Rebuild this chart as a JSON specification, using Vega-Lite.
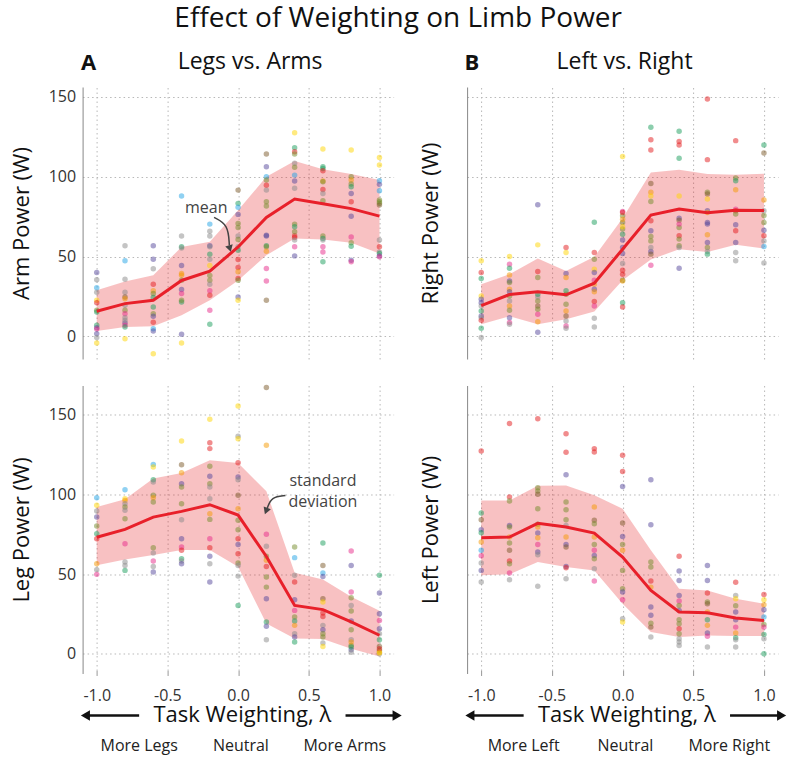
{
"$schema":"https://vega.github.io/schema/vega-lite/v6.json",
"padding":{"left":9.6,"top":5,"right":0,"bottom":0},
"autosize":{"type":"pad"},
"title":{"text":"Effect of Weighting on Limb Power","fontSize":28,"fontWeight":"normal","color":"#111","anchor":"middle","offset":18},
"bounds":"flush",
"columns":2,
"spacing":{"row":26.5,"column":73.5},
"concat":[
{"width":311,"height":272,
"title":{"text":"Legs vs. Arms","fontSize":23,"fontWeight":"normal","anchor":"middle","frame":"group","dx":12,"offset":-22.5,"color":"#111"},
"encoding":{"x":{"field":"x","type":"quantitative","scale":{"domain":[-1.1,1.1],"nice":false,"zero":false},"axis":{"orient":"top","values":[-1,-0.5,0,0.5,1],"labels":false,"ticks":false,"domain":false,"grid":true,"title":"A","titleFontWeight":"bold","titleFontSize":22,"titleAlign":"left","titleAnchor":"start","titleBaseline":"alphabetic","titleX":-2,"titleY":-17.5}}},
"layer":[
{"data":{"name":"stats"},"transform":[{"filter":"datum.p == 'a'"}],"mark":{"type":"area","color":"#e41a1c","opacity":0.27},"encoding":{"y":{"field":"lo","type":"quantitative","scale":{"domain":[-14.2,156.2],"nice":false,"zero":false},"title":"Arm Power (W)","axis":{"values":[0,50,100,150],"ticks":false,"labelPadding":7,"titlePadding":15,"grid":true}},"y2":{"field":"hi"}}},
{"data":{"values":[{}]},"mark":{"type":"rule","color":"#555","strokeWidth":1.2},"encoding":{"x":{"datum":-1.1},"x2":{"datum":1},"y":{"datum":0}}},
{"data":{"name":"pts"},"transform":[{"filter":"datum.p == 'a'"}],"mark":{"type":"circle","size":30,"opacity":0.5},"encoding":{"y":{"field":"v","type":"quantitative","title":"Arm Power (W)"},"color":{"field":"c","type":"nominal","scale":{"domain":[1,2,3,4,5,6,7,8,9,10],"range":["#8a8a8a","#22a3e6","#1a9e5c","#e31a1c","#56479c","#ffd500","#f59a00","#7b5a2a","#e7298a","#738c2a"]},"legend":null}}},
{"data":{"name":"stats"},"transform":[{"filter":"datum.p == 'a'"}],"mark":{"type":"line","color":"#e8202a","strokeWidth":3},"encoding":{"y":{"field":"m","type":"quantitative","title":"Arm Power (W)"}}},
{"data":{"values":[{"x":-0.17,"y":74.5},{"x":-0.07,"y":70},{"x":-0.062,"y":57}]},"mark":{"type":"line","color":"#444","strokeWidth":1.5,"interpolate":"basis"},"encoding":{"y":{"field":"y","type":"quantitative","title":"Arm Power (W)"}}},
{"data":{"values":[{"x":-0.058,"y":55}]},"mark":{"type":"point","shape":"triangle-down","filled":true,"color":"#444","size":60,"angle":344,"opacity":1},"encoding":{"y":{"field":"y","type":"quantitative","title":"Arm Power (W)"}}},
{"data":{"values":[{"x":-0.225,"y":80.2,"t":"mean"}]},"mark":{"type":"text","fontSize":16,"color":"#444"},"encoding":{"y":{"field":"y","type":"quantitative","title":"Arm Power (W)"},"text":{"field":"t"}}}
]},
{"width":311,"height":272,
"title":{"text":"Left vs. Right","fontSize":23,"fontWeight":"normal","anchor":"middle","frame":"group","dx":2,"offset":-22.5,"color":"#111"},
"encoding":{"x":{"field":"x","type":"quantitative","scale":{"domain":[-1.1,1.1],"nice":false,"zero":false},"axis":{"orient":"top","values":[-1,-0.5,0,0.5,1],"labels":false,"ticks":false,"domain":false,"grid":true,"title":"B","titleFontWeight":"bold","titleFontSize":22,"titleAlign":"left","titleAnchor":"start","titleBaseline":"alphabetic","titleX":-3,"titleY":-17.5}}},
"layer":[
{"data":{"name":"stats"},"transform":[{"filter":"datum.p == 'b'"}],"mark":{"type":"area","color":"#e41a1c","opacity":0.27},"encoding":{"y":{"field":"lo","type":"quantitative","scale":{"domain":[-14.2,156.2],"nice":false,"zero":false},"title":"Right Power (W)","axis":{"values":[0,50,100,150],"labels":false,"ticks":false,"titlePadding":25,"grid":true}},"y2":{"field":"hi"}}},
{"data":{"values":[{}]},"mark":{"type":"rule","color":"#555","strokeWidth":1.2},"encoding":{"x":{"datum":-1.1},"x2":{"datum":1},"y":{"datum":0}}},
{"data":{"name":"pts"},"transform":[{"filter":"datum.p == 'b'"}],"mark":{"type":"circle","size":30,"opacity":0.5},"encoding":{"y":{"field":"v","type":"quantitative","title":"Right Power (W)"},"color":{"field":"c","type":"nominal","scale":{"domain":[1,2,3,4,5,6,7,8,9,10],"range":["#8a8a8a","#22a3e6","#1a9e5c","#e31a1c","#56479c","#ffd500","#f59a00","#7b5a2a","#e7298a","#738c2a"]},"legend":null}}},
{"data":{"name":"stats"},"transform":[{"filter":"datum.p == 'b'"}],"mark":{"type":"line","color":"#e8202a","strokeWidth":3},"encoding":{"y":{"field":"m","type":"quantitative","title":"Right Power (W)"}}}
]},
{"width":311,"height":288,
"encoding":{"x":{"field":"x","type":"quantitative","scale":{"domain":[-1.1,1.1],"nice":false,"zero":false},"axis":{"orient":"bottom","values":[-1,-0.5,0,0.5,1],"labelExpr":"datum.value < 0 ? '-' + format(-datum.value, '.1f') : format(datum.value, '.1f')","domain":false,"tickSize":-5,"tickColor":"#999","grid":true,"title":null,"labelPadding":17,"offset":2}}},
"layer":[
{"data":{"name":"stats"},"transform":[{"filter":"datum.p == 'c'"}],"mark":{"type":"area","color":"#e41a1c","opacity":0.27},"encoding":{"y":{"field":"lo","type":"quantitative","scale":{"domain":[-12.4,168.3],"nice":false,"zero":false},"title":"Leg Power (W)","axis":{"values":[0,50,100,150],"ticks":false,"labelPadding":7,"titlePadding":15,"grid":true}},"y2":{"field":"hi"}}},
{"data":{"values":[{}]},"mark":{"type":"rule","color":"#555","strokeWidth":1.2},"encoding":{"x":{"datum":-1.1},"x2":{"datum":1},"y":{"datum":0}}},
{"data":{"values":[{}]},"mark":{"type":"rule","color":"#999","strokeWidth":1},"encoding":{"x":{"datum":-1},"x2":{"datum":1},"y":{"datum":-13.65}}},
{"data":{"name":"pts"},"transform":[{"filter":"datum.p == 'c'"}],"mark":{"type":"circle","size":30,"opacity":0.5},"encoding":{"y":{"field":"v","type":"quantitative","title":"Leg Power (W)"},"color":{"field":"c","type":"nominal","scale":{"domain":[1,2,3,4,5,6,7,8,9,10],"range":["#8a8a8a","#22a3e6","#1a9e5c","#e31a1c","#56479c","#ffd500","#f59a00","#7b5a2a","#e7298a","#738c2a"]},"legend":null}}},
{"data":{"name":"stats"},"transform":[{"filter":"datum.p == 'c'"}],"mark":{"type":"line","color":"#e8202a","strokeWidth":3},"encoding":{"y":{"field":"m","type":"quantitative","title":"Leg Power (W)"}}},
{"data":{"values":[{"x":0.335,"y":99.3},{"x":0.235,"y":98.5},{"x":0.205,"y":91}]},"mark":{"type":"line","color":"#444","strokeWidth":1.5,"interpolate":"basis","orient":"vertical"},"encoding":{"y":{"field":"y","type":"quantitative","title":"Leg Power (W)"},"order":{"field":"y","sort":"descending"}}},
{"data":{"values":[{"x":0.198,"y":89.5}]},"mark":{"type":"point","shape":"triangle-down","filled":true,"color":"#444","size":60,"angle":21,"opacity":1},"encoding":{"y":{"field":"y","type":"quantitative","title":"Leg Power (W)"}}},
{"data":{"values":[{"x":0.6,"y":108.1,"t":"standard"},{"x":0.6,"y":95,"t":"deviation"}]},"mark":{"type":"text","fontSize":16,"color":"#444"},"encoding":{"y":{"field":"y","type":"quantitative","title":"Leg Power (W)"},"text":{"field":"t"}}}
]},
{"width":311,"height":288,
"encoding":{"x":{"field":"x","type":"quantitative","scale":{"domain":[-1.1,1.1],"nice":false,"zero":false},"axis":{"orient":"bottom","values":[-1,-0.5,0,0.5,1],"labelExpr":"datum.value < 0 ? '-' + format(-datum.value, '.1f') : format(datum.value, '.1f')","domain":false,"tickSize":-5,"tickColor":"#999","grid":true,"title":null,"labelPadding":17,"offset":2}}},
"layer":[
{"data":{"name":"stats"},"transform":[{"filter":"datum.p == 'd'"}],"mark":{"type":"area","color":"#e41a1c","opacity":0.27},"encoding":{"y":{"field":"lo","type":"quantitative","scale":{"domain":[-12.4,168.3],"nice":false,"zero":false},"title":"Left Power (W)","axis":{"values":[0,50,100,150],"labels":false,"ticks":false,"titlePadding":25,"grid":true}},"y2":{"field":"hi"}}},
{"data":{"values":[{}]},"mark":{"type":"rule","color":"#555","strokeWidth":1.2},"encoding":{"x":{"datum":-1.1},"x2":{"datum":1},"y":{"datum":0}}},
{"data":{"values":[{}]},"mark":{"type":"rule","color":"#999","strokeWidth":1},"encoding":{"x":{"datum":-1},"x2":{"datum":1},"y":{"datum":-13.65}}},
{"data":{"name":"pts"},"transform":[{"filter":"datum.p == 'd'"}],"mark":{"type":"circle","size":30,"opacity":0.5},"encoding":{"y":{"field":"v","type":"quantitative","title":"Left Power (W)"},"color":{"field":"c","type":"nominal","scale":{"domain":[1,2,3,4,5,6,7,8,9,10],"range":["#8a8a8a","#22a3e6","#1a9e5c","#e31a1c","#56479c","#ffd500","#f59a00","#7b5a2a","#e7298a","#738c2a"]},"legend":null}}},
{"data":{"name":"stats"},"transform":[{"filter":"datum.p == 'd'"}],"mark":{"type":"line","color":"#e8202a","strokeWidth":3},"encoding":{"y":{"field":"m","type":"quantitative","title":"Left Power (W)"}}}
]},
{"width":311,"height":62,
"encoding":{"x":{"field":"x","type":"quantitative","scale":{"domain":[-1.1,1.1],"nice":false,"zero":false},"axis":null},"y":{"field":"y","type":"quantitative","scale":{"domain":[-0.5,1.5],"nice":false,"zero":false},"axis":null}},
"layer":[
{"data":{"values":[{"x":0.03,"y":1,"t":"Task Weighting, λ"}]},"mark":{"type":"text","fontSize":22,"color":"#111"},"encoding":{"text":{"field":"t"}}},
{"data":{"values":[{"x":-1.08,"x2":-0.7,"y":1},{"x":0.76,"x2":1.125,"y":1}]},"mark":{"type":"rule","color":"#111","strokeWidth":2.5},"encoding":{"x2":{"field":"x2"}}},
{"data":{"values":[{"x":-1.08,"y":1,"d":"l"},{"x":1.125,"y":1,"d":"r"}]},"mark":{"type":"point","filled":true,"color":"#111","size":110,"opacity":1},"encoding":{"shape":{"field":"d","type":"nominal","scale":{"domain":["l","r"],"range":["triangle-left","triangle-right"]},"legend":null}}},
{"data":{"values":[{"x":-0.7,"y":0,"t":"More Legs"},{"x":0.02,"y":0,"t":"Neutral"},{"x":0.755,"y":0,"t":"More Arms"}]},"mark":{"type":"text","fontSize":16,"color":"#222"},"encoding":{"text":{"field":"t"}}}
]},
{"width":311,"height":62,
"encoding":{"x":{"field":"x","type":"quantitative","scale":{"domain":[-1.1,1.1],"nice":false,"zero":false},"axis":null},"y":{"field":"y","type":"quantitative","scale":{"domain":[-0.5,1.5],"nice":false,"zero":false},"axis":null}},
"layer":[
{"data":{"values":[{"x":0.03,"y":1,"t":"Task Weighting, λ"}]},"mark":{"type":"text","fontSize":22,"color":"#111"},"encoding":{"text":{"field":"t"}}},
{"data":{"values":[{"x":-1.08,"x2":-0.7,"y":1},{"x":0.76,"x2":1.125,"y":1}]},"mark":{"type":"rule","color":"#111","strokeWidth":2.5},"encoding":{"x2":{"field":"x2"}}},
{"data":{"values":[{"x":-1.08,"y":1,"d":"l"},{"x":1.125,"y":1,"d":"r"}]},"mark":{"type":"point","filled":true,"color":"#111","size":110,"opacity":1},"encoding":{"shape":{"field":"d","type":"nominal","scale":{"domain":["l","r"],"range":["triangle-left","triangle-right"]},"legend":null}}},
{"data":{"values":[{"x":-0.7,"y":0,"t":"More Left"},{"x":0.02,"y":0,"t":"Neutral"},{"x":0.755,"y":0,"t":"More Right"}]},"mark":{"type":"text","fontSize":16,"color":"#222"},"encoding":{"text":{"field":"t"}}}
]}
],
"datasets":{
"stats":[
{"p":"a","x":-1,"m":15.7,"lo":3.3,"hi":28.9},{"p":"a","x":-0.8,"m":20.5,"lo":5.9,"hi":34.3},{"p":"a","x":-0.6,"m":22.6,"lo":6.3,"hi":38.3},{"p":"a","x":-0.4,"m":35,"lo":13.2,"hi":56},{"p":"a","x":-0.2,"m":40.8,"lo":22.6,"hi":59.2},{"p":"a","x":0,"m":56,"lo":35,"hi":79},{"p":"a","x":0.2,"m":74.5,"lo":50.8,"hi":100},{"p":"a","x":0.4,"m":86,"lo":61.3,"hi":109.8},{"p":"a","x":0.6,"m":83,"lo":60.7,"hi":104.6},{"p":"a","x":0.8,"m":80,"lo":58.6,"hi":101.7},{"p":"a","x":1,"m":75.3,"lo":51.9,"hi":98},
{"p":"b","x":-1,"m":19.2,"lo":7.5,"hi":32.6},{"p":"b","x":-0.8,"m":26.2,"lo":12.6,"hi":38.9},{"p":"b","x":-0.6,"m":28,"lo":7.5,"hi":48.7},{"p":"b","x":-0.4,"m":26,"lo":10.7,"hi":41},{"p":"b","x":-0.2,"m":33.3,"lo":15.5,"hi":49.8},{"p":"b","x":0,"m":54.6,"lo":35.1,"hi":74},{"p":"b","x":0.2,"m":76,"lo":48.1,"hi":102.7},{"p":"b","x":0.4,"m":79.7,"lo":54.6,"hi":104.4},{"p":"b","x":0.6,"m":77.4,"lo":52.9,"hi":101.7},{"p":"b","x":0.8,"m":79,"lo":57.3,"hi":101.3},{"p":"b","x":1,"m":78.9,"lo":55,"hi":101.9},
{"p":"c","x":-1,"m":73.1,"lo":55.5,"hi":92},{"p":"c","x":-0.8,"m":78,"lo":59.2,"hi":97},{"p":"c","x":-0.6,"m":85.7,"lo":62,"hi":110},{"p":"c","x":-0.4,"m":89.3,"lo":65.1,"hi":113.4},{"p":"c","x":-0.2,"m":93.5,"lo":65.1,"hi":121.4},{"p":"c","x":0,"m":87,"lo":54.6,"hi":119.7},{"p":"c","x":0.2,"m":61,"lo":18.9,"hi":101.9},{"p":"c","x":0.4,"m":30.3,"lo":9.5,"hi":50.8},{"p":"c","x":0.6,"m":27.7,"lo":9.2,"hi":46.6},{"p":"c","x":0.8,"m":20,"lo":3.2,"hi":35.7},{"p":"c","x":1,"m":11.6,"lo":-1.7,"hi":26.9},
{"p":"d","x":-1,"m":72.8,"lo":49.2,"hi":96.2},{"p":"d","x":-0.8,"m":73.2,"lo":49.8,"hi":96.2},{"p":"d","x":-0.6,"m":81.8,"lo":57.5,"hi":105.4},{"p":"d","x":-0.4,"m":79.5,"lo":54.4,"hi":105.6},{"p":"d","x":-0.2,"m":75.7,"lo":52.3,"hi":99.4},{"p":"d","x":0,"m":60.7,"lo":31.4,"hi":91},{"p":"d","x":0.2,"m":39.7,"lo":13.6,"hi":64.9},{"p":"d","x":0.4,"m":26.2,"lo":10.5,"hi":40.8},{"p":"d","x":0.6,"m":25.7,"lo":11.5,"hi":39.7},{"p":"d","x":0.8,"m":22.4,"lo":11.1,"hi":34.5},{"p":"d","x":1,"m":20.9,"lo":11.1,"hi":31.4}
],
"pts":[
{"p":"a","x":-1,"c":5,"v":40},{"p":"a","x":-1,"c":1,"v":35.5},{"p":"a","x":-1,"c":2,"v":30.5},{"p":"a","x":-1,"c":1,"v":27.6},{"p":"a","x":-1,"c":6,"v":22.6},{"p":"a","x":-1,"c":4,"v":21},{"p":"a","x":-1,"c":10,"v":16.3},{"p":"a","x":-1,"c":3,"v":15.3},{"p":"a","x":-1,"c":3,"v":6.9},{"p":"a","x":-1,"c":5,"v":5.4},{"p":"a","x":-1,"c":9,"v":4.6},{"p":"a","x":-1,"c":5,"v":1.7},{"p":"a","x":-1,"c":1,"v":-0.8},{"p":"a","x":-1,"c":6,"v":-4.2},
{"p":"a","x":-0.8,"c":1,"v":56.7},{"p":"a","x":-0.8,"c":2,"v":47.3},{"p":"a","x":-0.8,"c":1,"v":35.8},{"p":"a","x":-0.8,"c":1,"v":27.6},{"p":"a","x":-0.8,"c":8,"v":24.7},{"p":"a","x":-0.8,"c":7,"v":23.6},{"p":"a","x":-0.8,"c":1,"v":19.5},{"p":"a","x":-0.8,"c":10,"v":16.3},{"p":"a","x":-0.8,"c":9,"v":14.2},{"p":"a","x":-0.8,"c":1,"v":11.7},{"p":"a","x":-0.8,"c":5,"v":8.4},{"p":"a","x":-0.8,"c":9,"v":6.9},{"p":"a","x":-0.8,"c":6,"v":-1.5},{"p":"a","x":-0.8,"c":1,"v":10},{"p":"a","x":-0.8,"c":3,"v":5.9},
{"p":"a","x":-0.6,"c":5,"v":56.7},{"p":"a","x":-0.6,"c":5,"v":48.3},{"p":"a","x":-0.6,"c":1,"v":42.3},{"p":"a","x":-0.6,"c":4,"v":32.6},{"p":"a","x":-0.6,"c":7,"v":28.5},{"p":"a","x":-0.6,"c":10,"v":26.8},{"p":"a","x":-0.6,"c":3,"v":24.3},{"p":"a","x":-0.6,"c":3,"v":18.4},{"p":"a","x":-0.6,"c":10,"v":14.2},{"p":"a","x":-0.6,"c":5,"v":12.6},{"p":"a","x":-0.6,"c":4,"v":8.8},{"p":"a","x":-0.6,"c":2,"v":4.8},{"p":"a","x":-0.6,"c":5,"v":3.3},{"p":"a","x":-0.6,"c":6,"v":-10.9},
{"p":"a","x":-0.4,"c":2,"v":87.9},{"p":"a","x":-0.4,"c":1,"v":62.8},{"p":"a","x":-0.4,"c":3,"v":56.1},{"p":"a","x":-0.4,"c":1,"v":55.4},{"p":"a","x":-0.4,"c":5,"v":44.4},{"p":"a","x":-0.4,"c":7,"v":39.3},{"p":"a","x":-0.4,"c":7,"v":38.3},{"p":"a","x":-0.4,"c":10,"v":35.1},{"p":"a","x":-0.4,"c":5,"v":29.3},{"p":"a","x":-0.4,"c":9,"v":26.8},{"p":"a","x":-0.4,"c":3,"v":21.5},{"p":"a","x":-0.4,"c":10,"v":22.6},{"p":"a","x":-0.4,"c":5,"v":1.3},{"p":"a","x":-0.4,"c":6,"v":-4.2},
{"p":"a","x":-0.2,"c":2,"v":70.3},{"p":"a","x":-0.2,"c":1,"v":65.9},{"p":"a","x":-0.2,"c":1,"v":62.8},{"p":"a","x":-0.2,"c":5,"v":56.7},{"p":"a","x":-0.2,"c":1,"v":56.1},{"p":"a","x":-0.2,"c":3,"v":51.5},{"p":"a","x":-0.2,"c":1,"v":48.3},{"p":"a","x":-0.2,"c":6,"v":44.4},{"p":"a","x":-0.2,"c":10,"v":38.1},{"p":"a","x":-0.2,"c":10,"v":35.1},{"p":"a","x":-0.2,"c":1,"v":32.6},{"p":"a","x":-0.2,"c":9,"v":28.5},{"p":"a","x":-0.2,"c":4,"v":25.7},{"p":"a","x":-0.2,"c":9,"v":16.3},{"p":"a","x":-0.2,"c":3,"v":7.5},
{"p":"a","x":0,"c":8,"v":91.6},{"p":"a","x":0,"c":3,"v":83.3},{"p":"a","x":0,"c":2,"v":80.8},{"p":"a","x":0,"c":5,"v":76.4},{"p":"a","x":0,"c":10,"v":70.7},{"p":"a","x":0,"c":10,"v":68.2},{"p":"a","x":0,"c":1,"v":62.8},{"p":"a","x":0,"c":10,"v":60.7},{"p":"a","x":0,"c":1,"v":56.1},{"p":"a","x":0,"c":3,"v":54},{"p":"a","x":0,"c":4,"v":48.1},{"p":"a","x":0,"c":4,"v":43.1},{"p":"a","x":0,"c":7,"v":40.4},{"p":"a","x":0,"c":4,"v":36.2},{"p":"a","x":0,"c":10,"v":35.1},{"p":"a","x":0,"c":5,"v":24.7},{"p":"a","x":0,"c":6,"v":22.6},
{"p":"a","x":0.2,"c":8,"v":114.2},{"p":"a","x":0.2,"c":5,"v":106.3},{"p":"a","x":0.2,"c":2,"v":100},{"p":"a","x":0.2,"c":10,"v":97.9},{"p":"a","x":0.2,"c":4,"v":94.6},{"p":"a","x":0.2,"c":1,"v":91.6},{"p":"a","x":0.2,"c":10,"v":84.3},{"p":"a","x":0.2,"c":10,"v":81.6},{"p":"a","x":0.2,"c":5,"v":63.4},{"p":"a","x":0.2,"c":5,"v":62.8},{"p":"a","x":0.2,"c":3,"v":56.7},{"p":"a","x":0.2,"c":10,"v":56.1},{"p":"a","x":0.2,"c":7,"v":53.3},{"p":"a","x":0.2,"c":9,"v":42.5},{"p":"a","x":0.2,"c":9,"v":34.7},{"p":"a","x":0.2,"c":8,"v":22.6},
{"p":"a","x":0.4,"c":6,"v":127.6},{"p":"a","x":0.4,"c":3,"v":118.2},{"p":"a","x":0.4,"c":4,"v":115.7},{"p":"a","x":0.4,"c":10,"v":114.2},{"p":"a","x":0.4,"c":1,"v":108.4},{"p":"a","x":0.4,"c":10,"v":105.9},{"p":"a","x":0.4,"c":2,"v":101},{"p":"a","x":0.4,"c":5,"v":97.3},{"p":"a","x":0.4,"c":1,"v":92.7},{"p":"a","x":0.4,"c":10,"v":70.3},{"p":"a","x":0.4,"c":3,"v":68.6},{"p":"a","x":0.4,"c":4,"v":63},{"p":"a","x":0.4,"c":4,"v":61.9},{"p":"a","x":0.4,"c":9,"v":56.1},{"p":"a","x":0.4,"c":5,"v":50.4},{"p":"a","x":0.4,"c":1,"v":60.3},{"p":"a","x":0.4,"c":10,"v":65.5},
{"p":"a","x":0.6,"c":6,"v":117.4},{"p":"a","x":0.6,"c":3,"v":106.3},{"p":"a","x":0.6,"c":3,"v":105.2},{"p":"a","x":0.6,"c":4,"v":103.8},{"p":"a","x":0.6,"c":7,"v":97.3},{"p":"a","x":0.6,"c":10,"v":96.9},{"p":"a","x":0.6,"c":4,"v":92},{"p":"a","x":0.6,"c":1,"v":89.5},{"p":"a","x":0.6,"c":10,"v":84.9},{"p":"a","x":0.6,"c":10,"v":62.8},{"p":"a","x":0.6,"c":3,"v":61.3},{"p":"a","x":0.6,"c":1,"v":60.3},{"p":"a","x":0.6,"c":9,"v":56.1},{"p":"a","x":0.6,"c":9,"v":52.9},{"p":"a","x":0.6,"c":3,"v":46.7},
{"p":"a","x":0.8,"c":6,"v":116.7},{"p":"a","x":0.8,"c":10,"v":100},{"p":"a","x":0.8,"c":7,"v":97.9},{"p":"a","x":0.8,"c":10,"v":95.4},{"p":"a","x":0.8,"c":3,"v":93.7},{"p":"a","x":0.8,"c":5,"v":89.5},{"p":"a","x":0.8,"c":4,"v":84.3},{"p":"a","x":0.8,"c":5,"v":75.3},{"p":"a","x":0.8,"c":9,"v":62.3},{"p":"a","x":0.8,"c":10,"v":58.6},{"p":"a","x":0.8,"c":3,"v":56.5},{"p":"a","x":0.8,"c":5,"v":47.7},{"p":"a","x":0.8,"c":9,"v":46.7},
{"p":"a","x":1,"c":6,"v":112.1},{"p":"a","x":1,"c":6,"v":107.3},{"p":"a","x":1,"c":2,"v":97.5},{"p":"a","x":1,"c":5,"v":95.2},{"p":"a","x":1,"c":2,"v":91.2},{"p":"a","x":1,"c":10,"v":85.4},{"p":"a","x":1,"c":10,"v":84.3},{"p":"a","x":1,"c":10,"v":83.3},{"p":"a","x":1,"c":8,"v":82.2},{"p":"a","x":1,"c":1,"v":52.9},{"p":"a","x":1,"c":3,"v":51.9},{"p":"a","x":1,"c":5,"v":50.4},{"p":"a","x":1,"c":1,"v":60.3},{"p":"a","x":1,"c":4,"v":56.1},{"p":"a","x":1,"c":9,"v":49.8},
{"p":"b","x":-1,"c":6,"v":47.3},{"p":"b","x":-1,"c":4,"v":40},{"p":"b","x":-1,"c":3,"v":36.2},{"p":"b","x":-1,"c":6,"v":25.3},{"p":"b","x":-1,"c":5,"v":23.2},{"p":"b","x":-1,"c":5,"v":21.1},{"p":"b","x":-1,"c":1,"v":19},{"p":"b","x":-1,"c":3,"v":15.9},{"p":"b","x":-1,"c":5,"v":12.8},{"p":"b","x":-1,"c":1,"v":11.7},{"p":"b","x":-1,"c":4,"v":10},{"p":"b","x":-1,"c":3,"v":5},{"p":"b","x":-1,"c":1,"v":-0.8},
{"p":"b","x":-0.8,"c":6,"v":50},{"p":"b","x":-0.8,"c":9,"v":45.2},{"p":"b","x":-0.8,"c":3,"v":42.7},{"p":"b","x":-0.8,"c":7,"v":38.5},{"p":"b","x":-0.8,"c":5,"v":34.7},{"p":"b","x":-0.8,"c":10,"v":33.7},{"p":"b","x":-0.8,"c":7,"v":29.5},{"p":"b","x":-0.8,"c":5,"v":28},{"p":"b","x":-0.8,"c":10,"v":25.3},{"p":"b","x":-0.8,"c":1,"v":22.2},{"p":"b","x":-0.8,"c":7,"v":19},{"p":"b","x":-0.8,"c":10,"v":16.3},{"p":"b","x":-0.8,"c":5,"v":11.7},{"p":"b","x":-0.8,"c":9,"v":8.6},{"p":"b","x":-0.8,"c":1,"v":7.5},
{"p":"b","x":-0.6,"c":5,"v":82.4},{"p":"b","x":-0.6,"c":6,"v":57.3},{"p":"b","x":-0.6,"c":4,"v":40.6},{"p":"b","x":-0.6,"c":10,"v":36.8},{"p":"b","x":-0.6,"c":1,"v":24.7},{"p":"b","x":-0.6,"c":8,"v":19},{"p":"b","x":-0.6,"c":10,"v":16.9},{"p":"b","x":-0.6,"c":7,"v":9.2},{"p":"b","x":-0.6,"c":5,"v":2.5},{"p":"b","x":-0.6,"c":3,"v":26.4},{"p":"b","x":-0.6,"c":9,"v":13.8},{"p":"b","x":-0.6,"c":10,"v":22.2},
{"p":"b","x":-0.4,"c":4,"v":55.6},{"p":"b","x":-0.4,"c":6,"v":52.5},{"p":"b","x":-0.4,"c":5,"v":39.3},{"p":"b","x":-0.4,"c":7,"v":36.8},{"p":"b","x":-0.4,"c":3,"v":28.5},{"p":"b","x":-0.4,"c":10,"v":26.4},{"p":"b","x":-0.4,"c":10,"v":20.1},{"p":"b","x":-0.4,"c":7,"v":15.9},{"p":"b","x":-0.4,"c":8,"v":12.8},{"p":"b","x":-0.4,"c":1,"v":9.6},{"p":"b","x":-0.4,"c":9,"v":6.5},{"p":"b","x":-0.4,"c":1,"v":5},
{"p":"b","x":-0.2,"c":3,"v":71.5},{"p":"b","x":-0.2,"c":4,"v":52.5},{"p":"b","x":-0.2,"c":10,"v":48.3},{"p":"b","x":-0.2,"c":6,"v":42},{"p":"b","x":-0.2,"c":5,"v":40},{"p":"b","x":-0.2,"c":9,"v":35.1},{"p":"b","x":-0.2,"c":7,"v":32.6},{"p":"b","x":-0.2,"c":5,"v":29.5},{"p":"b","x":-0.2,"c":7,"v":28},{"p":"b","x":-0.2,"c":4,"v":21.8},{"p":"b","x":-0.2,"c":9,"v":19},{"p":"b","x":-0.2,"c":1,"v":11.3},{"p":"b","x":-0.2,"c":1,"v":5.9},
{"p":"b","x":0,"c":6,"v":112.6},{"p":"b","x":0,"c":9,"v":78.2},{"p":"b","x":0,"c":10,"v":75.5},{"p":"b","x":0,"c":10,"v":67.2},{"p":"b","x":0,"c":5,"v":60.3},{"p":"b","x":0,"c":5,"v":51.9},{"p":"b","x":0,"c":1,"v":45.6},{"p":"b","x":0,"c":4,"v":41.4},{"p":"b","x":0,"c":4,"v":38.9},{"p":"b","x":0,"c":10,"v":35.1},{"p":"b","x":0,"c":7,"v":34.7},{"p":"b","x":0,"c":3,"v":21.1},{"p":"b","x":0,"c":4,"v":18.4},{"p":"b","x":0,"c":10,"v":71.3},{"p":"b","x":0,"c":3,"v":64},{"p":"b","x":0,"c":7,"v":73.4},{"p":"b","x":0,"c":5,"v":55.6},{"p":"b","x":0,"c":4,"v":77.6},{"p":"b","x":0,"c":6,"v":68.6},
{"p":"b","x":0.2,"c":3,"v":131},{"p":"b","x":0.2,"c":4,"v":123.2},{"p":"b","x":0.2,"c":4,"v":116.7},{"p":"b","x":0.2,"c":8,"v":95.8},{"p":"b","x":0.2,"c":7,"v":90.2},{"p":"b","x":0.2,"c":6,"v":87.9},{"p":"b","x":0.2,"c":10,"v":84.5},{"p":"b","x":0.2,"c":5,"v":66.1},{"p":"b","x":0.2,"c":10,"v":62.6},{"p":"b","x":0.2,"c":10,"v":59.8},{"p":"b","x":0.2,"c":5,"v":53.1},{"p":"b","x":0.2,"c":8,"v":51.5},{"p":"b","x":0.2,"c":9,"v":44.6},{"p":"b","x":0.2,"c":4,"v":72.4},{"p":"b","x":0.2,"c":1,"v":55.6},
{"p":"b","x":0.4,"c":3,"v":128.5},{"p":"b","x":0.4,"c":4,"v":122},{"p":"b","x":0.4,"c":4,"v":119.9},{"p":"b","x":0.4,"c":3,"v":111.5},{"p":"b","x":0.4,"c":6,"v":87.9},{"p":"b","x":0.4,"c":5,"v":74},{"p":"b","x":0.4,"c":8,"v":72.8},{"p":"b","x":0.4,"c":10,"v":68.2},{"p":"b","x":0.4,"c":4,"v":63},{"p":"b","x":0.4,"c":10,"v":60.9},{"p":"b","x":0.4,"c":10,"v":56.7},{"p":"b","x":0.4,"c":5,"v":42.7},{"p":"b","x":0.4,"c":9,"v":70.3},{"p":"b","x":0.4,"c":1,"v":55.6},
{"p":"b","x":0.6,"c":4,"v":148.7},{"p":"b","x":0.6,"c":4,"v":110.7},{"p":"b","x":0.6,"c":10,"v":90.2},{"p":"b","x":0.6,"c":8,"v":89.1},{"p":"b","x":0.6,"c":6,"v":86},{"p":"b","x":0.6,"c":5,"v":78.7},{"p":"b","x":0.6,"c":7,"v":77.6},{"p":"b","x":0.6,"c":5,"v":71.3},{"p":"b","x":0.6,"c":5,"v":70.3},{"p":"b","x":0.6,"c":7,"v":63.6},{"p":"b","x":0.6,"c":5,"v":58.8},{"p":"b","x":0.6,"c":10,"v":55.6},{"p":"b","x":0.6,"c":1,"v":53.1},{"p":"b","x":0.6,"c":3,"v":51.5},
{"p":"b","x":0.8,"c":4,"v":122.6},{"p":"b","x":0.8,"c":10,"v":99.2},{"p":"b","x":0.8,"c":3,"v":97.5},{"p":"b","x":0.8,"c":7,"v":91.8},{"p":"b","x":0.8,"c":9,"v":79.7},{"p":"b","x":0.8,"c":4,"v":78.7},{"p":"b","x":0.8,"c":10,"v":76.6},{"p":"b","x":0.8,"c":5,"v":69.9},{"p":"b","x":0.8,"c":4,"v":66.1},{"p":"b","x":0.8,"c":5,"v":58.8},{"p":"b","x":0.8,"c":1,"v":52.5},{"p":"b","x":0.8,"c":1,"v":47.3},
{"p":"b","x":1,"c":3,"v":119.9},{"p":"b","x":1,"c":8,"v":114.9},{"p":"b","x":1,"c":7,"v":85.4},{"p":"b","x":1,"c":10,"v":75.7},{"p":"b","x":1,"c":10,"v":71.3},{"p":"b","x":1,"c":5,"v":66.5},{"p":"b","x":1,"c":4,"v":63},{"p":"b","x":1,"c":1,"v":59.8},{"p":"b","x":1,"c":2,"v":56.3},{"p":"b","x":1,"c":1,"v":46},{"p":"b","x":1,"c":1,"v":78.7},
{"p":"c","x":-1,"c":2,"v":97.9},{"p":"c","x":-1,"c":6,"v":93.1},{"p":"c","x":-1,"c":1,"v":89.5},{"p":"c","x":-1,"c":5,"v":85.8},{"p":"c","x":-1,"c":10,"v":80.1},{"p":"c","x":-1,"c":3,"v":75.3},{"p":"c","x":-1,"c":4,"v":72.2},{"p":"c","x":-1,"c":7,"v":56.5},{"p":"c","x":-1,"c":1,"v":52.7},{"p":"c","x":-1,"c":9,"v":49.8},
{"p":"c","x":-0.8,"c":2,"v":102.9},{"p":"c","x":-0.8,"c":6,"v":97.3},{"p":"c","x":-0.8,"c":7,"v":96.2},{"p":"c","x":-0.8,"c":1,"v":94.1},{"p":"c","x":-0.8,"c":10,"v":92},{"p":"c","x":-0.8,"c":1,"v":90},{"p":"c","x":-0.8,"c":10,"v":84.7},{"p":"c","x":-0.8,"c":1,"v":57.5},{"p":"c","x":-0.8,"c":1,"v":55.4},{"p":"c","x":-0.8,"c":3,"v":52.3},{"p":"c","x":-0.8,"c":9,"v":69},
{"p":"c","x":-0.6,"c":2,"v":118.8},{"p":"c","x":-0.6,"c":6,"v":117.2},{"p":"c","x":-0.6,"c":3,"v":109.2},{"p":"c","x":-0.6,"c":1,"v":107.7},{"p":"c","x":-0.6,"c":10,"v":99.4},{"p":"c","x":-0.6,"c":7,"v":97.9},{"p":"c","x":-0.6,"c":10,"v":95.2},{"p":"c","x":-0.6,"c":10,"v":66.5},{"p":"c","x":-0.6,"c":1,"v":63.2},{"p":"c","x":-0.6,"c":9,"v":58.2},{"p":"c","x":-0.6,"c":1,"v":54.8},{"p":"c","x":-0.6,"c":5,"v":51.3},
{"p":"c","x":-0.4,"c":6,"v":133.5},{"p":"c","x":-0.4,"c":8,"v":118.6},{"p":"c","x":-0.4,"c":7,"v":113.6},{"p":"c","x":-0.4,"c":5,"v":106.7},{"p":"c","x":-0.4,"c":10,"v":104.6},{"p":"c","x":-0.4,"c":10,"v":94.1},{"p":"c","x":-0.4,"c":1,"v":84.1},{"p":"c","x":-0.4,"c":5,"v":72.2},{"p":"c","x":-0.4,"c":9,"v":66.9},{"p":"c","x":-0.4,"c":4,"v":64.9},{"p":"c","x":-0.4,"c":3,"v":59.6},{"p":"c","x":-0.4,"c":1,"v":58.2},{"p":"c","x":-0.4,"c":5,"v":56.5},
{"p":"c","x":-0.2,"c":6,"v":147.1},{"p":"c","x":-0.2,"c":4,"v":132.4},{"p":"c","x":-0.2,"c":4,"v":128.7},{"p":"c","x":-0.2,"c":10,"v":117.6},{"p":"c","x":-0.2,"c":5,"v":111.3},{"p":"c","x":-0.2,"c":10,"v":106.7},{"p":"c","x":-0.2,"c":1,"v":104.6},{"p":"c","x":-0.2,"c":1,"v":97.3},{"p":"c","x":-0.2,"c":7,"v":87.9},{"p":"c","x":-0.2,"c":10,"v":84.3},{"p":"c","x":-0.2,"c":9,"v":72.2},{"p":"c","x":-0.2,"c":4,"v":66.5},{"p":"c","x":-0.2,"c":5,"v":61.1},{"p":"c","x":-0.2,"c":1,"v":56.5},{"p":"c","x":-0.2,"c":5,"v":45},
{"p":"c","x":0,"c":6,"v":155.4},{"p":"c","x":0,"c":1,"v":136.4},{"p":"c","x":0,"c":6,"v":134.9},{"p":"c","x":0,"c":4,"v":119.9},{"p":"c","x":0,"c":5,"v":110.9},{"p":"c","x":0,"c":1,"v":109.2},{"p":"c","x":0,"c":8,"v":99.4},{"p":"c","x":0,"c":7,"v":91},{"p":"c","x":0,"c":10,"v":83.7},{"p":"c","x":0,"c":10,"v":77.8},{"p":"c","x":0,"c":4,"v":72.2},{"p":"c","x":0,"c":5,"v":68.6},{"p":"c","x":0,"c":4,"v":62.8},{"p":"c","x":0,"c":10,"v":56.9},{"p":"c","x":0,"c":1,"v":55.4},{"p":"c","x":0,"c":1,"v":48.7},{"p":"c","x":0,"c":3,"v":30.3},
{"p":"c","x":0.2,"c":8,"v":167},{"p":"c","x":0.2,"c":7,"v":130.8},{"p":"c","x":0.2,"c":9,"v":74.9},{"p":"c","x":0.2,"c":1,"v":67.4},{"p":"c","x":0.2,"c":10,"v":61.1},{"p":"c","x":0.2,"c":7,"v":58.6},{"p":"c","x":0.2,"c":4,"v":54.8},{"p":"c","x":0.2,"c":10,"v":48.1},{"p":"c","x":0.2,"c":10,"v":41.8},{"p":"c","x":0.2,"c":5,"v":34.5},{"p":"c","x":0.2,"c":3,"v":19.9},{"p":"c","x":0.2,"c":5,"v":17.2},{"p":"c","x":0.2,"c":1,"v":8.8},
{"p":"c","x":0.4,"c":10,"v":66.9},{"p":"c","x":0.4,"c":2,"v":60.3},{"p":"c","x":0.4,"c":1,"v":49.2},{"p":"c","x":0.4,"c":4,"v":45},{"p":"c","x":0.4,"c":5,"v":33.9},{"p":"c","x":0.4,"c":9,"v":27.2},{"p":"c","x":0.4,"c":10,"v":23},{"p":"c","x":0.4,"c":3,"v":20.5},{"p":"c","x":0.4,"c":7,"v":17.8},{"p":"c","x":0.4,"c":1,"v":12.6},{"p":"c","x":0.4,"c":5,"v":10.5},{"p":"c","x":0.4,"c":3,"v":7.3},
{"p":"c","x":0.6,"c":3,"v":69.5},{"p":"c","x":0.6,"c":8,"v":55.4},{"p":"c","x":0.6,"c":2,"v":50.6},{"p":"c","x":0.6,"c":5,"v":48.5},{"p":"c","x":0.6,"c":8,"v":34.5},{"p":"c","x":0.6,"c":6,"v":32.4},{"p":"c","x":0.6,"c":4,"v":25.5},{"p":"c","x":0.6,"c":4,"v":23.4},{"p":"c","x":0.6,"c":1,"v":17.8},{"p":"c","x":0.6,"c":5,"v":15.1},{"p":"c","x":0.6,"c":10,"v":12.6},{"p":"c","x":0.6,"c":10,"v":10.5},{"p":"c","x":0.6,"c":1,"v":6.7},{"p":"c","x":0.6,"c":6,"v":4.6},
{"p":"c","x":0.8,"c":9,"v":64.4},{"p":"c","x":0.8,"c":5,"v":55.4},{"p":"c","x":0.8,"c":9,"v":38.7},{"p":"c","x":0.8,"c":10,"v":35.1},{"p":"c","x":0.8,"c":1,"v":30.3},{"p":"c","x":0.8,"c":10,"v":26.8},{"p":"c","x":0.8,"c":5,"v":20.5},{"p":"c","x":0.8,"c":10,"v":15.1},{"p":"c","x":0.8,"c":1,"v":8.8},{"p":"c","x":0.8,"c":10,"v":5.2},{"p":"c","x":0.8,"c":5,"v":2.5},{"p":"c","x":0.8,"c":1,"v":1},{"p":"c","x":0.8,"c":7,"v":7.3},{"p":"c","x":0.8,"c":3,"v":4.2},
{"p":"c","x":1,"c":3,"v":49.2},{"p":"c","x":1,"c":5,"v":38.1},{"p":"c","x":1,"c":5,"v":25.1},{"p":"c","x":1,"c":9,"v":20.9},{"p":"c","x":1,"c":5,"v":15.7},{"p":"c","x":1,"c":1,"v":12.6},{"p":"c","x":1,"c":3,"v":8.8},{"p":"c","x":1,"c":8,"v":4.6},{"p":"c","x":1,"c":10,"v":2.1},{"p":"c","x":1,"c":1,"v":0},{"p":"c","x":1,"c":7,"v":1},{"p":"c","x":1,"c":4,"v":3.1},{"p":"c","x":1,"c":6,"v":0.4},
{"p":"d","x":-1,"c":4,"v":127.2},{"p":"d","x":-1,"c":3,"v":88.3},{"p":"d","x":-1,"c":8,"v":84.1},{"p":"d","x":-1,"c":5,"v":77.8},{"p":"d","x":-1,"c":3,"v":75.9},{"p":"d","x":-1,"c":7,"v":70.1},{"p":"d","x":-1,"c":2,"v":64.9},{"p":"d","x":-1,"c":9,"v":61.5},{"p":"d","x":-1,"c":1,"v":56.9},{"p":"d","x":-1,"c":5,"v":52.3},{"p":"d","x":-1,"c":1,"v":45},
{"p":"d","x":-0.8,"c":4,"v":144.4},{"p":"d","x":-0.8,"c":4,"v":98.3},{"p":"d","x":-0.8,"c":10,"v":95.8},{"p":"d","x":-0.8,"c":5,"v":80.5},{"p":"d","x":-0.8,"c":10,"v":79.5},{"p":"d","x":-0.8,"c":7,"v":73.2},{"p":"d","x":-0.8,"c":10,"v":69.5},{"p":"d","x":-0.8,"c":8,"v":64.9},{"p":"d","x":-0.8,"c":4,"v":58.2},{"p":"d","x":-0.8,"c":10,"v":56.5},{"p":"d","x":-0.8,"c":9,"v":50.6},{"p":"d","x":-0.8,"c":1,"v":46.4},
{"p":"d","x":-0.6,"c":4,"v":147.5},{"p":"d","x":-0.6,"c":10,"v":104.2},{"p":"d","x":-0.6,"c":10,"v":102.1},{"p":"d","x":-0.6,"c":8,"v":100},{"p":"d","x":-0.6,"c":10,"v":91},{"p":"d","x":-0.6,"c":10,"v":81.2},{"p":"d","x":-0.6,"c":7,"v":79.5},{"p":"d","x":-0.6,"c":5,"v":75.7},{"p":"d","x":-0.6,"c":7,"v":72.8},{"p":"d","x":-0.6,"c":9,"v":68.6},{"p":"d","x":-0.6,"c":5,"v":63.8},{"p":"d","x":-0.6,"c":1,"v":62.1},{"p":"d","x":-0.6,"c":1,"v":42.3},
{"p":"d","x":-0.4,"c":4,"v":138},{"p":"d","x":-0.4,"c":4,"v":126.4},{"p":"d","x":-0.4,"c":5,"v":112.3},{"p":"d","x":-0.4,"c":10,"v":95.2},{"p":"d","x":-0.4,"c":10,"v":90.4},{"p":"d","x":-0.4,"c":10,"v":84.1},{"p":"d","x":-0.4,"c":1,"v":80.5},{"p":"d","x":-0.4,"c":7,"v":73.2},{"p":"d","x":-0.4,"c":5,"v":68.6},{"p":"d","x":-0.4,"c":8,"v":66.9},{"p":"d","x":-0.4,"c":5,"v":54.8},{"p":"d","x":-0.4,"c":4,"v":54},{"p":"d","x":-0.4,"c":1,"v":47.1},
{"p":"d","x":-0.2,"c":4,"v":128.7},{"p":"d","x":-0.2,"c":4,"v":126.6},{"p":"d","x":-0.2,"c":7,"v":92.1},{"p":"d","x":-0.2,"c":8,"v":83.7},{"p":"d","x":-0.2,"c":10,"v":81.6},{"p":"d","x":-0.2,"c":10,"v":68.6},{"p":"d","x":-0.2,"c":9,"v":64.9},{"p":"d","x":-0.2,"c":5,"v":61.7},{"p":"d","x":-0.2,"c":10,"v":59.6},{"p":"d","x":-0.2,"c":1,"v":53.3},{"p":"d","x":-0.2,"c":9,"v":45.6},{"p":"d","x":-0.2,"c":7,"v":73.2},
{"p":"d","x":0,"c":4,"v":124.5},{"p":"d","x":0,"c":4,"v":114.4},{"p":"d","x":0,"c":5,"v":105},{"p":"d","x":0,"c":8,"v":82},{"p":"d","x":0,"c":5,"v":73.6},{"p":"d","x":0,"c":10,"v":68.6},{"p":"d","x":0,"c":7,"v":64.9},{"p":"d","x":0,"c":10,"v":52.3},{"p":"d","x":0,"c":10,"v":40.8},{"p":"d","x":0,"c":5,"v":38.7},{"p":"d","x":0,"c":9,"v":33.9},{"p":"d","x":0,"c":1,"v":22},{"p":"d","x":0,"c":6,"v":19.9},
{"p":"d","x":0.2,"c":5,"v":109.2},{"p":"d","x":0.2,"c":5,"v":81},{"p":"d","x":0.2,"c":10,"v":57.5},{"p":"d","x":0.2,"c":10,"v":54.4},{"p":"d","x":0.2,"c":4,"v":45.6},{"p":"d","x":0.2,"c":7,"v":41.8},{"p":"d","x":0.2,"c":5,"v":29.3},{"p":"d","x":0.2,"c":5,"v":24.1},{"p":"d","x":0.2,"c":10,"v":19.2},{"p":"d","x":0.2,"c":8,"v":16.7},{"p":"d","x":0.2,"c":1,"v":10.5},
{"p":"d","x":0.4,"c":4,"v":61.1},{"p":"d","x":0.4,"c":5,"v":51.9},{"p":"d","x":0.4,"c":5,"v":46},{"p":"d","x":0.4,"c":5,"v":36.6},{"p":"d","x":0.4,"c":9,"v":33.1},{"p":"d","x":0.4,"c":10,"v":30.3},{"p":"d","x":0.4,"c":5,"v":27.2},{"p":"d","x":0.4,"c":10,"v":21.3},{"p":"d","x":0.4,"c":10,"v":18.8},{"p":"d","x":0.4,"c":4,"v":15.7},{"p":"d","x":0.4,"c":10,"v":12.6},{"p":"d","x":0.4,"c":1,"v":9.4},{"p":"d","x":0.4,"c":1,"v":7.3},{"p":"d","x":0.4,"c":1,"v":5.2},
{"p":"d","x":0.6,"c":5,"v":55.4},{"p":"d","x":0.6,"c":5,"v":46},{"p":"d","x":0.6,"c":4,"v":38.1},{"p":"d","x":0.6,"c":10,"v":32.4},{"p":"d","x":0.6,"c":8,"v":31.4},{"p":"d","x":0.6,"c":7,"v":26.2},{"p":"d","x":0.6,"c":3,"v":21.3},{"p":"d","x":0.6,"c":7,"v":17.8},{"p":"d","x":0.6,"c":5,"v":13},{"p":"d","x":0.6,"c":9,"v":10.9},{"p":"d","x":0.6,"c":1,"v":4.2},
{"p":"d","x":0.8,"c":4,"v":44.8},{"p":"d","x":0.8,"c":1,"v":36.6},{"p":"d","x":0.8,"c":6,"v":34.5},{"p":"d","x":0.8,"c":10,"v":30.1},{"p":"d","x":0.8,"c":5,"v":26.2},{"p":"d","x":0.8,"c":5,"v":21.3},{"p":"d","x":0.8,"c":9,"v":16.7},{"p":"d","x":0.8,"c":7,"v":13},{"p":"d","x":0.8,"c":3,"v":10},{"p":"d","x":0.8,"c":1,"v":8.8},{"p":"d","x":0.8,"c":1,"v":4.2},
{"p":"d","x":1,"c":4,"v":37.2},{"p":"d","x":1,"c":6,"v":33.9},{"p":"d","x":1,"c":7,"v":30.8},{"p":"d","x":1,"c":5,"v":27.6},{"p":"d","x":1,"c":2,"v":23},{"p":"d","x":1,"c":10,"v":18.4},{"p":"d","x":1,"c":9,"v":16.7},{"p":"d","x":1,"c":3,"v":12.1},{"p":"d","x":1,"c":1,"v":9.4},{"p":"d","x":1,"c":3,"v":0}
]
},
"config":{
"font":"Open Sans",
"view":{"stroke":null},
"title":{"font":"Open Sans","fontWeight":"normal","color":"#111"},
"axis":{"labelFont":"Open Sans","titleFont":"Open Sans","labelFontSize":16,"titleFontSize":22,"titleFontWeight":"normal","labelColor":"#333","titleColor":"#111","gridColor":"#b8b8b8","gridDash":[1.5,3],"gridWidth":1,"domainColor":"#888","tickColor":"#999"},
"text":{"font":"Open Sans"}
}
}
